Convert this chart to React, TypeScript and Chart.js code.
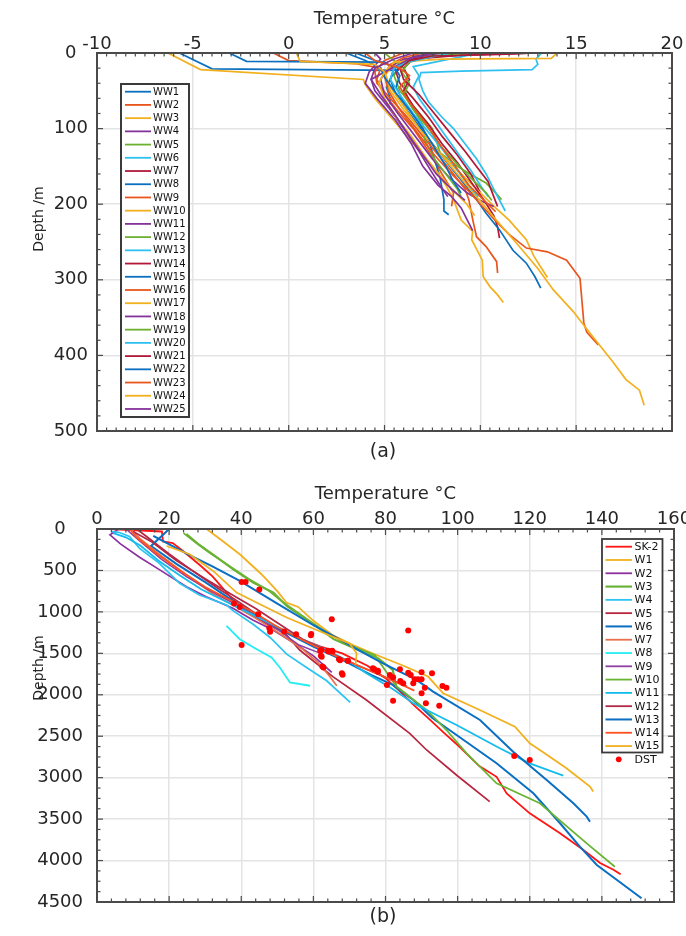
import React, { useEffect, useRef } from "react";
import { Chart, registerables } from "chart.js";

Chart.register(...registerables);

// ---------- (a) shallow wells: [temperature °C, depth m] ----------
const WW1 = [[-5.7,0],[-4.0,21],[5.7,23],[5.4,30],[5.1,45],[5.3,60],[5.3,68]];
const WW2 = [[-0.8,0],[0.0,10],[3.5,14],[4.8,20],[4.6,35],[5.0,55],[5.8,80],[6.5,100],[7.3,130],[8.0,160],[8.6,185],[8.5,203]];
const WW3 = [[-6.3,0],[-4.6,22],[3.9,35],[4.0,42],[4.5,60],[5.5,90],[6.5,120],[7.5,150],[8.2,175],[8.6,194],[9.0,221],[9.6,236],[9.55,247],[10.1,274],[10.15,296],[10.5,309],[10.9,320],[11.2,330]];
const WW4 = [[4.5,0],[4.8,8],[4.2,25],[4.0,40],[4.6,60],[5.6,90],[6.4,120],[7.0,150],[7.8,175],[8.5,190],[9.0,205],[9.3,220],[9.6,235]];
const WW5 = [[7.5,0],[6.5,5],[5.8,15],[5.5,30],[5.8,50],[6.5,70],[7.5,100],[7.9,132],[8.8,150],[9.6,162],[10.3,172],[10.8,185],[11.1,194]];
const WW6 = [[13.2,0],[12.9,8],[13.0,15],[12.7,22],[9.0,24],[6.9,26],[6.8,35],[7.0,50],[7.3,65],[8.0,85],[8.6,100],[9.2,120],[9.8,140],[10.3,160],[10.8,185],[11.3,209]];
const WW7 = [[12.5,0],[10.0,2],[7.0,5],[6.0,12],[5.6,25],[5.8,40],[6.5,60],[7.3,85],[8.0,110],[8.8,135],[9.5,160],[10.0,185]];
const WW8 = [[3.5,0],[4.5,10],[5.5,18],[5.8,30],[5.6,45],[6.0,65],[6.8,92],[7.3,115],[7.6,140],[7.9,165],[8.1,194],[8.1,209],[8.35,214]];
const WW9 = [[6.0,0],[5.0,10],[4.5,25],[4.6,40],[5.3,60],[6.2,85],[7.0,110],[7.8,135],[8.6,160],[9.2,180],[9.4,194],[9.6,220],[9.8,243],[10.3,256],[10.85,276],[10.9,291]];
const WW10 = [[9.0,0],[6.5,5],[5.5,15],[5.0,30],[5.3,50],[6.0,75],[7.0,105],[8.0,135],[9.0,160],[10.0,185],[10.8,205],[11.5,221],[12.4,247],[12.8,269],[13.3,289],[13.5,297]];
const WW11 = [[8.0,0],[6.0,8],[5.2,20],[4.8,35],[5.0,55],[5.7,80],[6.6,110],[7.5,140],[8.4,165],[9.3,185],[10.0,195],[10.7,203]];
const WW12 = [[5.0,0],[5.5,10],[6.0,20],[6.2,30],[6.0,45],[6.3,65],[7.0,95],[7.1,115],[7.6,140],[8.2,160],[8.8,180],[9.0,190]];
const WW13 = [[10.0,0],[8.0,10],[6.5,18],[6.8,30],[6.5,45],[6.8,60],[7.5,85],[8.2,110],[8.9,135],[9.5,155],[10.0,175],[10.4,190]];
const WW14 = [[13.0,0],[9.0,3],[6.5,8],[6.0,20],[6.3,35],[6.0,50],[6.5,70],[7.3,95],[8.0,120],[8.8,145],[9.5,170],[10.2,195],[10.7,215],[10.9,230],[11.0,245]];
const WW15 = [[-3.1,0],[-2.2,11],[5.0,12],[5.5,20],[5.3,35],[5.6,55],[6.3,80],[7.2,110],[8.1,140],[8.9,165],[9.7,190],[10.3,212],[11.0,234],[11.7,261],[12.4,278],[12.85,296],[13.15,311]];
const WW16 = [[7.0,0],[6.0,6],[5.3,15],[5.0,30],[5.2,50],[5.8,75],[6.7,105],[7.6,135],[8.5,160],[9.3,180],[10.0,200],[10.8,222],[11.5,240],[12.4,258],[13.5,263],[14.5,274],[15.2,298],[15.4,357],[15.55,369],[16.15,386]];
const WW17 = [[14.0,0],[13.7,7],[8.0,8],[5.5,12],[5.0,25],[5.3,45],[6.0,70],[6.8,100],[7.8,130],[8.8,160],[9.8,190],[10.8,220],[12.0,255],[13.0,285],[13.8,313],[14.85,342],[15.46,362],[16.9,408],[17.6,432],[18.3,446],[18.55,466]];
const WW18 = [[7.5,0],[6.5,5],[5.8,15],[5.0,25],[4.3,35],[4.5,50],[5.3,75],[6.0,100],[6.8,130],[7.4,155],[7.9,175],[8.3,190]];
const WW19 = [[9.5,0],[7.5,4],[6.3,12],[5.9,25],[6.3,40],[6.0,55],[6.5,75],[7.3,100],[8.0,125],[8.9,150],[9.7,170],[10.3,185],[10.6,195]];
const WW20 = [[8.5,0],[7.5,5],[6.2,12],[5.5,20],[5.3,35],[5.8,55],[6.5,80],[7.3,105],[8.1,130],[8.8,155],[9.4,175],[9.9,190]];
const WW21 = [[12.8,0],[11.0,2],[7.5,4],[6.3,10],[5.8,20],[6.0,35],[6.8,55],[7.6,80],[8.4,105],[9.2,130],[9.8,150],[10.4,170],[10.7,190],[10.9,203]];
const WW22 = [[3.0,0],[4.0,10],[4.8,20],[5.0,32],[5.5,50],[6.3,75],[7.0,100],[7.6,125],[8.2,150],[8.6,170],[9.0,185]];
const WW23 = [[4.0,0],[4.5,10],[5.8,20],[6.3,30],[5.8,45],[6.3,65],[7.2,95],[8.0,125],[8.7,150],[9.4,175],[10.2,195],[10.8,210]];
const WW24 = [[0.4,0],[0.6,11],[4.5,15],[5.0,25],[4.7,40],[5.0,60],[5.6,85],[6.4,110],[7.2,140],[8.0,165],[8.7,185],[9.3,200],[9.7,215]];
const WW25 = [[6.5,0],[5.5,8],[4.5,20],[4.3,35],[4.8,55],[5.5,80],[6.3,110],[7.0,135],[7.7,160],[8.5,180],[9.2,195]];

const TOP_WELLS = [WW1,WW2,WW3,WW4,WW5,WW6,WW7,WW8,WW9,WW10,WW11,WW12,WW13,WW14,WW15,WW16,WW17,WW18,WW19,WW20,WW21,WW22,WW23,WW24,WW25];
const TOP_NAMES = TOP_WELLS.map((_, i) => "WW" + (i + 1));
const TOP_COLORS = ["#0A6FBF", "#E8561E", "#F2B01E", "#84339A", "#6DAF2E", "#2EC0F0", "#B01838"];

// ---------- (b) deep wells: [temperature °C, depth m] ----------
const SK2 = [[3.5,0],[18,30],[18.3,150],[21,170],[23.4,250],[28.5,434],[32.1,575],[37.7,856],[45,1100],[55,1300],[62,1420],[68,1500],[75,1650],[80,1800],[84,1960],[88,2130],[92.3,2300],[96,2450],[100.6,2630],[106,2860],[110.8,2990],[113.6,3190],[120,3430],[128.4,3670],[134.8,3870],[139.5,4030],[143.2,4110],[145.2,4166]];
const W1 = [[30.4,0],[35,150],[39.6,305],[45.6,546],[50,750],[52.5,888],[55.8,940],[60,1108],[65.2,1275],[71,1400],[77.5,1520],[85,1650],[91.8,1780],[96,1982],[106,2180],[115.9,2385],[120,2585],[122.8,2666],[130,2880],[136.7,3108],[137.6,3168]];
const W2 = [[6.0,0],[3.6,70],[6.5,180],[11.8,340],[17.3,490],[24.8,696],[30.3,817],[37.7,957],[43.2,1098],[48.8,1218],[54.4,1370],[60,1530],[65.1,1731]];
const W3 = [[24.8,60],[28,180],[32.1,305],[37.8,486],[43.3,647],[48.9,767],[52.6,928],[60,1149],[65.6,1329],[72,1450],[78,1560],[82,1700],[83,1900],[86,2000]];
const W4 = [[4,30],[6,40],[9,90],[11.8,233],[17.3,414],[22.9,655],[28.4,796],[35.9,917],[37.8,988],[43.3,1149],[48,1309],[52.6,1510],[58.1,1671],[63.7,1831],[70.2,2092]];
const W5 = [[11,0],[14,100],[20,300],[27,520],[33,700],[40,900],[46,1080],[52,1250],[56.2,1460],[65.4,1781],[74.7,2063],[86.7,2465],[91.4,2666],[100,2980],[108.9,3289]];
const W6 = [[20,0],[15,205],[22,420],[30,640],[37.5,860],[45,1060],[52,1240],[60,1420],[68,1580],[76,1760],[82,1880],[87.7,2063],[93,2280],[99.7,2485],[110.8,2826],[121,3189],[128.4,3550],[133.9,3832],[138.6,4053],[151,4455]];
const W7 = [[9.5,0],[12,120],[18,330],[25,560],[32,780],[39,950],[45,1100],[52,1300],[57,1450],[61,1600],[64,1750],[66.5,1890]];
const W8 = [[35.9,1170],[39.6,1329],[44.3,1450],[48.4,1550],[50.7,1671],[53.5,1851],[59.1,1891]];
const W9 = [[8,0],[12,150],[18,370],[25,580],[32,760],[39,920],[45,1080],[51,1240],[56,1400],[62,1500]];
const W10 = [[24,50],[27,150],[31,280],[36.5,440],[42,600],[47.5,740],[51.5,880],[58,1080],[64,1260],[70,1400],[77,1520],[83,1900],[91.4,2183],[96.9,2425],[102.5,2706],[110.8,3068],[122.8,3309],[135.8,3792],[143.6,4074]];
const W11 = [[4.5,50],[8,100],[12,200],[17,380],[23,560],[29,730],[36,880],[43,1030],[50,1180],[57,1330],[64,1470],[70,1600],[74.7,1741],[82,1930],[87.7,2103],[93.2,2223],[99.7,2364],[111.7,2646],[120,2827],[129.3,2976]];
const W12 = [[10,30],[15,150],[22,380],[30,600],[37,780],[44,960],[50,1130],[57,1330],[64,1480],[72,1640],[80,1790],[86,1900]];
const W13 = [[15.6,84],[25,300],[32,450],[39.6,627],[50,900],[59.9,1158],[66,1300],[72,1450],[79.3,1620],[88.6,1821],[93.2,1962],[106.2,2304],[115.4,2686],[124.7,3028],[132.1,3309],[135.8,3470],[136.7,3531]];
const W14 = [[9,0],[11,100],[16,280],[23,500],[30,700],[37,860],[44,1020],[50,1180],[57,1340],[64,1490],[72,1640],[78,1750],[84,1870],[88,1950]];
const W15 = [[19.3,205],[25.7,305],[32.2,506],[38.7,767],[45.2,908],[52.6,1068],[63.7,1269],[70,1380],[72,1500],[71.7,1640]];

const DST_T = [40.1,41.2,45,38,39.6,44.7,47.8,48,51.9,55.2,59.3,40.1,65.1,61.9,62.3,64.2,65.3,67.4,62.8,69.5,68.1,76.9,77.9,86.3,59.4,62.2,62.1,64.1,65.2,67.1,69.6,67.9,62.5,76.5,77.9,81.2,82.1,84,86.3,87,90,92.9,88.1,89,90,84.1,84.9,87.7,90.9,90,80.4,82.1,91.2,94.9,95.8,96.9,115.7,120];
const DST_D = [639,639,731,900,940,1028,1197,1241,1237,1269,1281,1398,1088,1470,1542,1478,1478,1582,1671,1590,1759,1691,1711,1226,1267,1460,1528,1468,1468,1572,1588,1741,1660,1681,1721,1761,1789,1693,1733,1761,1729,1741,1813,1813,1813,1833,1862,1862,1914,1982,1882,2071,2103,2131,1894,1914,2738,2787];

const BOT_WELLS = [SK2,W1,W2,W3,W4,W5,W6,W7,W8,W9,W10,W11,W12,W13,W14,W15];
const BOT_NAMES = ["SK-2","W1","W2","W3","W4","W5","W6","W7","W8","W9","W10","W11","W12","W13","W14","W15"];
const BOT_COLORS = ["#FF1414","#F2B01E","#8E30A0","#66B032","#2CC4F2","#B8253F","#0A6FC2","#E8704A","#22EEF2","#8E40A0","#6AB434","#14BCEE","#B22A48","#0A6FC2","#FF5020","#F2B01E"];
const BOT_WIDTHS = [1.8,1.8,1.7,2.1,1.7,1.7,2,1.7,1.8,1.5,1.8,1.8,1.7,2,1.7,1.7];

const FONT = '"DejaVu Sans", sans-serif';
const TXT = "#262626";
const AXIS = "#4a4a4a";
const GRID = "#e4e4e4";

const toPts = (arr: number[][]) => arr.map(([x, y]) => ({ x, y }));

function decorPlugin(d: any) {
  return {
    id: "decor",
    afterDraw(chart: any) {
      const { ctx, chartArea: a, scales } = chart;
      const xs = scales.x, ys = scales.y;
      ctx.save();
      ctx.strokeStyle = AXIS;
      ctx.lineWidth = 1.2;
      const line = (x0: number, y0: number, x1: number, y1: number) => {
        ctx.beginPath(); ctx.moveTo(x0, y0); ctx.lineTo(x1, y1); ctx.stroke();
      };
      const isMajor = (v: number, m: number) => Math.abs(v / m - Math.round(v / m)) < 1e-6;
      const nx = Math.round((xs.max - xs.min) / d.xMinor);
      for (let i = 0; i <= nx; i++) {
        const v = xs.min + i * d.xMinor;
        const p = xs.getPixelForValue(v);
        const L = isMajor(v, d.xMajor) ? 6 : 3.5;
        line(p, a.top, p, a.top + L);
        line(p, a.bottom, p, a.bottom - L);
      }
      const ny = Math.round((ys.max - ys.min) / d.yMinor);
      for (let i = 0; i <= ny; i++) {
        const v = ys.min + i * d.yMinor;
        const p = ys.getPixelForValue(v);
        const L = isMajor(v, d.yMajor) ? 6 : 3.5;
        line(a.left, p, a.left + L, p);
        line(a.right, p, a.right - L, p);
      }
      ctx.lineWidth = 2;
      ctx.strokeRect(a.left, a.top, a.right - a.left, a.bottom - a.top);

      // y axis title
      ctx.save();
      ctx.translate(d.yTitleX, d.yTitleY);
      ctx.rotate(-Math.PI / 2);
      ctx.fillStyle = TXT;
      ctx.font = `14px ${FONT}`;
      ctx.textAlign = "center";
      ctx.textBaseline = "middle";
      ctx.fillText("Depth /m", 0, 0);
      ctx.restore();

      // legend
      const lg = d.legend;
      ctx.fillStyle = "#ffffff";
      ctx.fillRect(lg.left, lg.top, lg.right - lg.left, lg.bottom - lg.top);
      ctx.lineWidth = lg.border;
      ctx.strokeStyle = "#3a3a3a";
      ctx.strokeRect(lg.left, lg.top, lg.right - lg.left, lg.bottom - lg.top);
      ctx.font = `${lg.fontSize}px ${FONT}`;
      ctx.textAlign = "left";
      ctx.textBaseline = "middle";
      chart.data.datasets.forEach((ds: any, i: number) => {
        const y = lg.firstY + i * lg.step;
        if (ds.showLine) {
          ctx.strokeStyle = ds.borderColor;
          ctx.lineWidth = Math.max(ds.borderWidth, 1.8);
          line(lg.lineX0, y, lg.lineX1, y);
        } else {
          ctx.fillStyle = ds.backgroundColor;
          ctx.beginPath();
          ctx.arc((lg.lineX0 + lg.lineX1) / 2, y, 2.9, 0, Math.PI * 2);
          ctx.fill();
        }
        ctx.fillStyle = "#111";
        ctx.fillText(ds.label, lg.textX, y + 0.5);
      });
      ctx.restore();
    },
  };
}

function baseOptions(cfg: any) {
  return {
    animation: false,
    responsive: false,
    devicePixelRatio: 1,
    layout: { padding: cfg.padding },
    plugins: { legend: { display: false }, tooltip: { enabled: false } },
    elements: { point: { radius: 0 }, line: { tension: 0 } },
    scales: {
      x: {
        type: "linear",
        position: "top",
        min: cfg.xMin,
        max: cfg.xMax,
        ticks: {
          stepSize: cfg.xStep,
          autoSkip: false,
          maxRotation: 0,
          padding: cfg.xTickPad,
          color: TXT,
          font: { family: FONT, size: 18, lineHeight: 1 },
          callback: (v: any) => String(v),
        },
        grid: { color: GRID, lineWidth: 1.5, drawTicks: false },
        border: { display: false },
        title: {
          display: true,
          text: "Temperature °C",
          color: TXT,
          font: { family: FONT, size: 18, lineHeight: 1.2 },
          padding: { top: cfg.titlePad, bottom: 0 },
        },
        afterFit: (s: any) => {
          s.height = cfg.xHeight;
          s.paddingLeft = 0;
          s.paddingRight = 0;
        },
      },
      y: {
        type: "linear",
        reverse: true,
        min: cfg.yMin,
        max: cfg.yMax,
        ticks: {
          stepSize: cfg.yStep,
          autoSkip: false,
          crossAlign: "center",
          padding: cfg.yTickPad,
          color: TXT,
          font: { family: FONT, size: 18, lineHeight: 1 },
          callback: (v: any) => String(v),
        },
        grid: { color: GRID, lineWidth: 1.5, drawTicks: false },
        border: { display: false },
        afterFit: (s: any) => {
          s.width = cfg.yWidth;
          s.paddingTop = 0;
          s.paddingBottom = 0;
        },
      },
    },
  };
}

export default function App() {
  const topRef = useRef<HTMLCanvasElement>(null);
  const botRef = useRef<HTMLCanvasElement>(null);

  useEffect(() => {
    const nTop = TOP_WELLS.length;
    const top = new Chart(topRef.current as HTMLCanvasElement, {
      type: "scatter",
      data: {
        datasets: TOP_WELLS.map((w, i) => ({
          label: TOP_NAMES[i],
          data: toPts(w),
          showLine: true,
          borderColor: TOP_COLORS[i % 7],
          backgroundColor: TOP_COLORS[i % 7],
          borderWidth: 1.7,
          pointRadius: 0,
          order: nTop - i,
        })),
      },
      options: baseOptions({
        padding: { left: 0, right: 14, top: 0, bottom: 39 },
        xMin: -10, xMax: 20, xStep: 5, xTickPad: 0, titlePad: 9, xHeight: 53,
        yMin: 0, yMax: 500, yStep: 100, yTickPad: 9, yWidth: 97,
      }) as any,
      plugins: [
        decorPlugin({
          xMinor: 0.5, xMajor: 5, yMinor: 20, yMajor: 100,
          yTitleX: 39, yTitleY: 219,
          legend: { left: 121, top: 84, right: 189, bottom: 417, firstY: 91.7, step: 13.22, lineX0: 125, lineX1: 151, textX: 153, fontSize: 10, border: 2 },
        }),
      ],
    });

    const nBot = BOT_WELLS.length;
    const botSets: any[] = BOT_WELLS.map((w, i) => ({
      label: BOT_NAMES[i],
      data: toPts(w),
      showLine: true,
      borderColor: BOT_COLORS[i],
      backgroundColor: BOT_COLORS[i],
      borderWidth: BOT_WIDTHS[i],
      pointRadius: 0,
      order: nBot + 1 - i,
    }));
    botSets.push({
      label: "DST",
      data: DST_T.map((t, i) => ({ x: t, y: DST_D[i] })),
      showLine: false,
      borderColor: "#FF0000",
      backgroundColor: "#FF0000",
      borderWidth: 0,
      pointRadius: 3,
      pointBorderWidth: 0,
      order: 0,
    });
    const bot = new Chart(botRef.current as HTMLCanvasElement, {
      type: "scatter",
      data: { datasets: botSets },
      options: baseOptions({
        padding: { left: 0, right: 12, top: 0, bottom: 34 },
        xMin: 0, xMax: 160, xStep: 20, xTickPad: 1, titlePad: 14, xHeight: 59,
        yMin: 0, yMax: 4500, yStep: 500, yTickPad: 14, yWidth: 97,
      }) as any,
      plugins: [
        decorPlugin({
          xMinor: 4, xMajor: 20, yMinor: 125, yMajor: 500,
          yTitleX: 39, yTitleY: 198,
          legend: { left: 602, top: 69, right: 662.5, bottom: 282.5, firstY: 76.7, step: 13.29, lineX0: 605.5, lineX1: 632, textX: 634.5, fontSize: 11, border: 1.8 },
        }),
      ],
    });

    return () => {
      top.destroy();
      bot.destroy();
    };
  }, []);

  const cap: React.CSSProperties = {
    position: "absolute",
    left: 333,
    width: 100,
    textAlign: "center",
    fontFamily: FONT,
    fontSize: 19,
    lineHeight: "20px",
    color: TXT,
  };

  return (
    <div style={{ position: "absolute", left: 0, top: 0, width: 686, height: 936, background: "#fff", overflow: "hidden" }}>
      <canvas ref={topRef} width={686} height={470} style={{ position: "absolute", left: 0, top: 0, width: 686, height: 470 }} />
      <canvas ref={botRef} width={686} height={466} style={{ position: "absolute", left: 0, top: 470, width: 686, height: 466 }} />
      <div style={{ ...cap, top: 440 }}>(a)</div>
      <div style={{ ...cap, top: 905 }}>(b)</div>
    </div>
  );
}
